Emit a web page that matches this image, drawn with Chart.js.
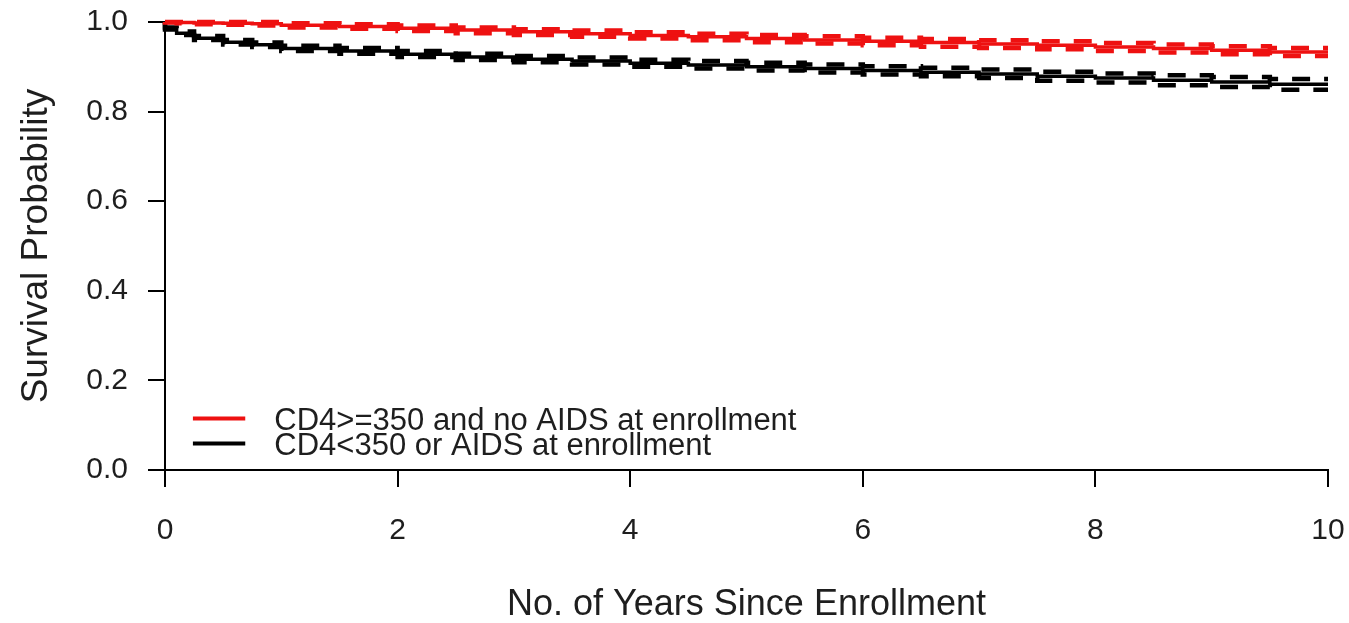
<!DOCTYPE html>
<html>
<head>
<meta charset="utf-8">
<script src="https://cdn.jsdelivr.net/npm/chart.js@4/dist/chart.umd.min.js"></script>
<style>
  html, body { margin: 0; padding: 0; background: #fff; }
  #wrap { width: 1349px; height: 623px; position: relative; }
</style>
</head>
<body>
<div id="wrap"><canvas id="km"></canvas></div>
<script>
// Kaplan-Meier survival estimates with pointwise 95% confidence limits
const years = [0, 0.1, 0.25, 0.5, 0.75, 1, 1.5, 2, 2.5, 3, 3.5, 4, 4.5, 5, 5.5, 6, 6.5, 7, 7.5, 8, 8.5, 9, 9.5, 10];

const highCd4Surv  = [1.000, 1.000, 0.999, 0.998, 0.997, 0.996, 0.993, 0.990, 0.986, 0.982, 0.978, 0.974, 0.970, 0.967, 0.963, 0.960, 0.957, 0.954, 0.951, 0.948, 0.944, 0.941, 0.937, 0.933];
const highCd4Upper = [1.000, 1.000, 1.000, 1.000, 1.000, 1.000, 0.997, 0.995, 0.992, 0.988, 0.984, 0.981, 0.977, 0.974, 0.971, 0.968, 0.965, 0.962, 0.959, 0.957, 0.953, 0.950, 0.946, 0.942];
const highCd4Lower = [1.000, 0.999, 0.997, 0.995, 0.994, 0.992, 0.988, 0.985, 0.980, 0.975, 0.971, 0.967, 0.963, 0.959, 0.955, 0.952, 0.948, 0.945, 0.942, 0.939, 0.935, 0.932, 0.928, 0.924];

const lowCd4Surv  = [1.000, 0.985, 0.975, 0.964, 0.955, 0.949, 0.941, 0.935, 0.928, 0.922, 0.917, 0.913, 0.908, 0.904, 0.900, 0.896, 0.892, 0.888, 0.884, 0.879, 0.875, 0.870, 0.866, 0.861];
const lowCd4Upper = [1.000, 0.988, 0.979, 0.969, 0.960, 0.954, 0.947, 0.942, 0.935, 0.929, 0.924, 0.921, 0.916, 0.913, 0.909, 0.905, 0.901, 0.898, 0.894, 0.889, 0.885, 0.881, 0.877, 0.873];
const lowCd4Lower = [1.000, 0.983, 0.971, 0.960, 0.950, 0.944, 0.935, 0.929, 0.922, 0.915, 0.910, 0.905, 0.900, 0.896, 0.892, 0.887, 0.883, 0.879, 0.875, 0.869, 0.865, 0.859, 0.855, 0.849];

const groupLabels = ['CD4>=350 and no AIDS at enrollment', 'CD4<350 or AIDS at enrollment'];
const groupColors = ['#ee1111', '#000000'];

const xTicks = [0, 2, 4, 6, 8, 10];
const yTicks = [0.0, 0.2, 0.4, 0.6, 0.8, 1.0];
const xTitle = 'No. of Years Since Enrollment';
const yTitle = 'Survival Probability';

const FONT = "'Liberation Sans', Arial, Helvetica, sans-serif";
const TEXT = '#1e1e1e';

const pts = (vals) => years.map((t, i) => ({ x: t, y: vals[i] }));

function curve(label, color, vals) {
  return {
    label, data: pts(vals), borderColor: color, borderWidth: 3.5,
    stepped: 'after', pointRadius: 0, fill: false, clip: 6, inLegend: true
  };
}
function band(color, vals) {
  return {
    label: '', data: pts(vals), borderColor: color, borderWidth: 4.5,
    borderDash: [18, 14], stepped: 'after', pointRadius: 0, fill: false, clip: 6, inLegend: false
  };
}

const datasets = [
  band(groupColors[0], highCd4Upper),
  band(groupColors[0], highCd4Lower),
  curve(groupLabels[0], groupColors[0], highCd4Surv),
  band(groupColors[1], lowCd4Upper),
  band(groupColors[1], lowCd4Lower),
  curve(groupLabels[1], groupColors[1], lowCd4Surv)
];

// white page behind everything
const whiteBg = {
  id: 'whiteBg',
  beforeDraw(chart) {
    const c = chart.ctx;
    c.save();
    c.fillStyle = '#ffffff';
    c.fillRect(0, 0, chart.width, chart.height);
    c.restore();
  }
};

// legend drawn inside the plot, lower-left, base-graphics style
const insetLegend = {
  id: 'insetLegend',
  afterDatasetsDraw(chart) {
    const c = chart.ctx;
    const x = chart.scales.x;
    const y = chart.scales.y;
    const x0 = x.getPixelForValue(0.24);
    const x1 = x.getPixelForValue(0.69);
    const tx = x.getPixelForValue(0.94);
    let ly = y.getPixelForValue(0.115);
    const step = 25;
    c.save();
    c.font = '31px ' + FONT;
    c.textBaseline = 'middle';
    c.textAlign = 'left';
    chart.data.datasets.filter(d => d.inLegend).forEach(d => {
      c.strokeStyle = d.borderColor;
      c.lineWidth = 4;
      c.beginPath();
      c.moveTo(x0, ly);
      c.lineTo(x1, ly);
      c.stroke();
      c.fillStyle = TEXT;
      c.fillText(d.label, tx, ly + 3);
      ly += step;
    });
    c.restore();
  }
};

new Chart(document.getElementById('km'), {
  type: 'line',
  data: { datasets },
  options: {
    responsive: true,
    maintainAspectRatio: false,
    animation: false,
    layout: { padding: { top: 22, right: 21, left: 0, bottom: 0 } },
    plugins: { legend: { display: false }, tooltip: { enabled: false } },
    scales: {
      x: {
        type: 'linear', min: 0, max: 10,
        afterBuildTicks: (s) => { s.ticks = xTicks.map(v => ({ value: v })); },
        afterFit: (s) => { s.height = 153; s.paddingLeft = 0; s.paddingRight = 0; },
        ticks: {
          color: TEXT, padding: 26,
          font: { family: FONT, size: 30 },
          callback: (v) => String(v), maxRotation: 0
        },
        grid: { drawOnChartArea: false, drawTicks: true, tickLength: 17, color: '#000', lineWidth: 2 },
        border: { display: true, color: '#000', width: 2 },
        title: {
          display: true, text: xTitle, color: TEXT,
          font: { family: FONT, size: 36, lineHeight: 1 },
          padding: { top: 0, bottom: 0 }
        }
      },
      y: {
        type: 'linear', min: 0, max: 1,
        afterBuildTicks: (s) => { s.ticks = yTicks.map(v => ({ value: v })); },
        afterFit: (s) => { s.width = 165; s.paddingTop = 0; s.paddingBottom = 0; },
        ticks: {
          color: TEXT, padding: 20,
          font: { family: FONT, size: 30 },
          callback: (v) => Number(v).toFixed(1)
        },
        grid: { drawOnChartArea: false, drawTicks: true, tickLength: 17, color: '#000', lineWidth: 2 },
        border: { display: true, color: '#000', width: 2 },
        title: {
          display: true, text: yTitle, color: TEXT,
          font: { family: FONT, size: 37, lineHeight: 1 },
          padding: { top: 18, bottom: 0 }
        }
      }
    }
  },
  plugins: [whiteBg, insetLegend]
});
</script>
</body>
</html>
